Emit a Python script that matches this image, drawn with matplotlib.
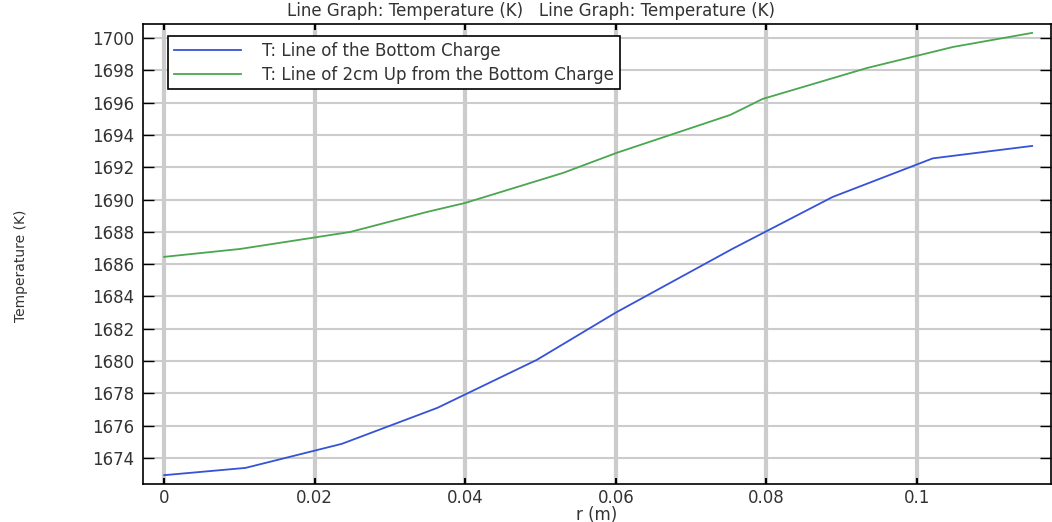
import matplotlib
matplotlib.use("Agg")
import matplotlib.pyplot as plt
import numpy as np

# radial position (m) and temperature (K)
r_bottom = [0.0, 0.0108, 0.0236, 0.0363, 0.0495, 0.0600, 0.0755, 0.0888, 0.1021, 0.1153]
T_bottom = [1672.93, 1673.38, 1674.87, 1677.10, 1680.07, 1683.00, 1686.95, 1690.16, 1692.55, 1693.32]

r_up = [0.0, 0.0101, 0.0247, 0.0349, 0.0400, 0.0530, 0.0601, 0.0752, 0.0795, 0.0934, 0.1048, 0.1153]
T_up = [1686.45, 1686.94, 1687.99, 1689.23, 1689.79, 1691.65, 1692.89, 1695.24, 1696.23, 1698.15, 1699.45, 1700.32]

xticks = [0, 0.02, 0.04, 0.06, 0.08, 0.1]
xtick_labels = ["0", "0.02", "0.04", "0.06", "0.08", "0.1"]
yticks = np.arange(1674, 1701, 2)

fig = plt.figure(figsize=(10.52, 5.22), dpi=100)
ax = fig.add_axes([0.136, 0.073, 0.863, 0.881])

ax.plot(r_bottom, T_bottom, color="#3652d6", lw=1.3, label="T: Line of the Bottom Charge")
ax.plot(r_up, T_up, color="#4aa64f", lw=1.3, label="T: Line of 2cm Up from the Bottom Charge")

ax.set_xlim(-0.0028, 0.1178)
ax.set_ylim(1672.39, 1700.87)
ax.set_xticks(xticks)
ax.set_xticklabels(xtick_labels)
ax.set_yticks(yticks)

# thick vertical grid, thinner horizontal grid
ax.grid(axis="x", color="#cccccc", lw=3.0)
ax.grid(axis="y", color="#cccccc", lw=1.5)
ax.set_axisbelow(True)

ax.tick_params(axis="y", direction="in", length=8, width=1, right=True,
               labelsize=12, colors="black", labelcolor="#333333", pad=6)
ax.tick_params(axis="x", direction="in", length=4, width=1.5, top=True,
               labelsize=12, labelcolor="#333333", pad=4)
for s in ax.spines.values():
    s.set_linewidth(1.2)

ax.set_xlabel("r (m)", fontsize=12, color="#333333", labelpad=-1)
fig.text(0.02, 0.49, "Temperature (K)", rotation=90, fontsize=10,
         color="#333333", ha="center", va="center")
fig.text(0.505, 0.978, "Line Graph: Temperature (K)   Line Graph: Temperature (K)",
         fontsize=12, color="#333333", ha="center", va="center")

leg = ax.legend(loc="upper left", bbox_to_anchor=(0.0275, 0.974), borderaxespad=0,
                fontsize=12, fancybox=False, framealpha=1, edgecolor="black",
                handlelength=4, borderpad=0.35, labelspacing=0.35, handletextpad=1.3)
leg.get_frame().set_linewidth(1.2)
for t in leg.get_texts():
    t.set_color("#333333")

fig.savefig("out.png", dpi=100)
